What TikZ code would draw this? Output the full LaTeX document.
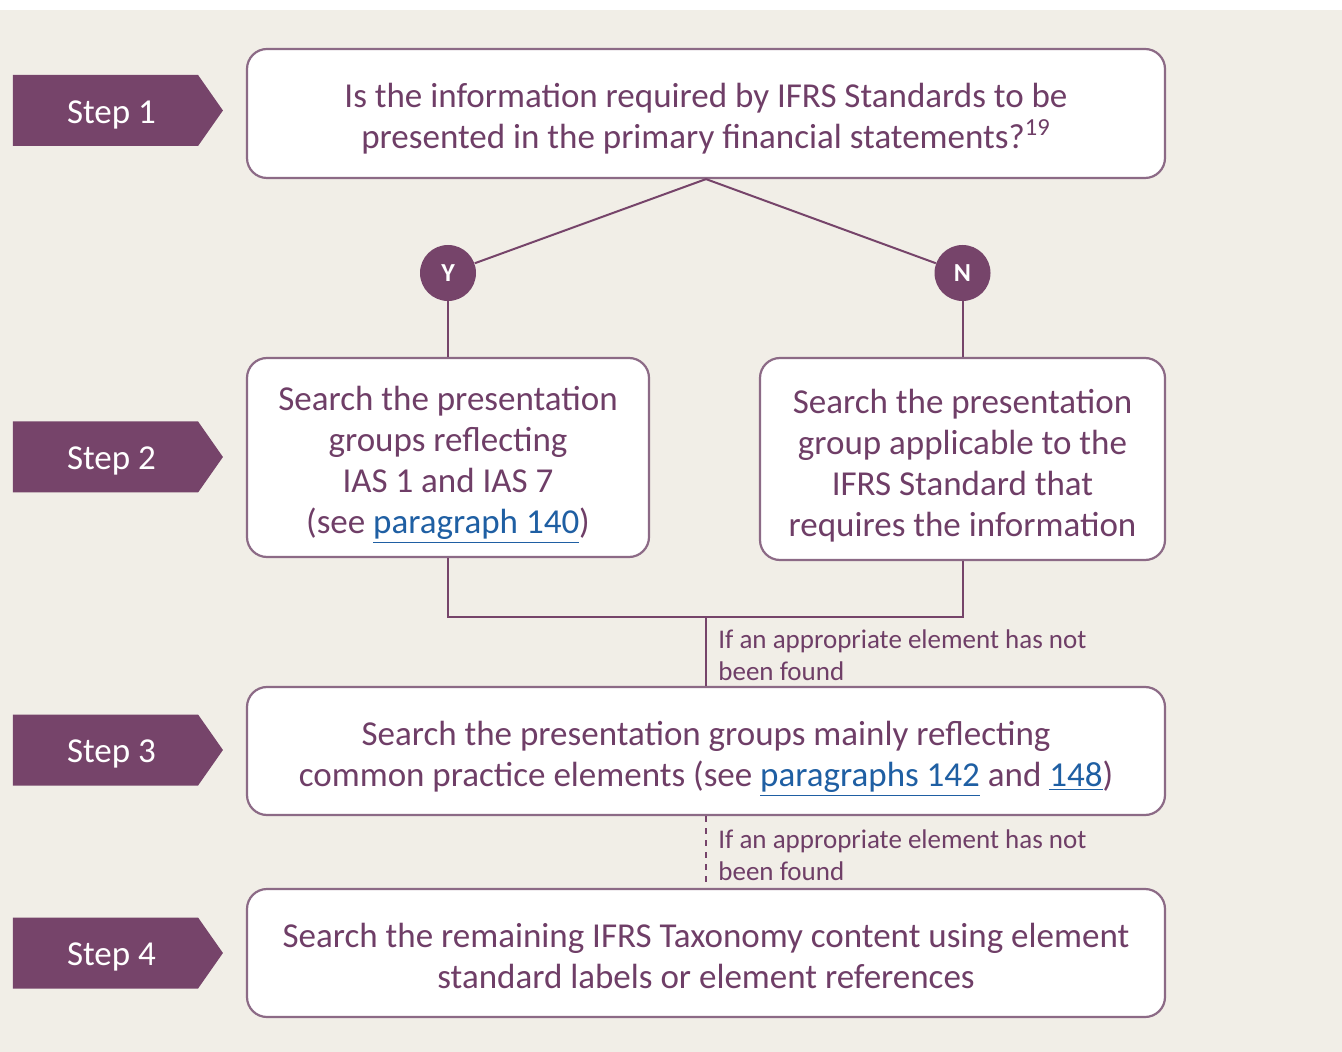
\documentclass[tikz,border=0pt]{standalone}
\usepackage{fontspec}
\setmainfont{Carlito}
\usepackage{tikz}
\usetikzlibrary{shapes,arrows.meta,positioning,calc,shapes.symbols,shapes.geometric}
\definecolor{plum}{HTML}{76446A}
\definecolor{plumtext}{HTML}{6F3E67}
\definecolor{plumline}{HTML}{8C6A86}
\definecolor{paper}{HTML}{F1EEE7}
\definecolor{linkblue}{HTML}{1F5FA3}
\newcommand{\lnk}[1]{{\color{linkblue}\underline{#1}}}
%% taller first line, pushes the text of a box down a little
\newcommand{\topgap}[1]{\rule{0pt}{#1}}
\tikzset{
  stepTag/.style={shape=signal, signal to=east, signal pointer angle=110,
    fill=plum, draw=none, minimum width=105pt, minimum height=35.5pt, inner sep=0pt,
    font=\fontsize{17.5}{20}\selectfont, text=white,
    execute at begin node={\hspace*{6pt}\rule{0pt}{15.5pt}}},
  qBox/.style={draw=plumline, line width=1.1pt, fill=white, rounded corners=10pt,
    align=center, text=plumtext, font=\fontsize{17.5}{20.5}\selectfont, inner sep=0pt},
  ynDot/.style={circle, fill=plum, minimum size=28pt, inner sep=0pt,
    font=\fontsize{13}{15}\selectfont\bfseries, text=white},
  %% connectors
  flow/.style={draw=plum, line width=1pt},
  %% side note
  sideNote/.style={align=left, text=plumtext, font=\fontsize{13.5}{16}\selectfont,
    inner sep=0pt, anchor=north west},
}
\begin{document}
\begin{tikzpicture}[x=0.5pt, y=-0.5pt]
%% Background
\fill[white] (0,0) rectangle (1342,1052);
\fill[paper] (0,10) rectangle (1342,1052);
\useasboundingbox (0,0) rectangle (1342,1052);

%% Step tags
\node[stepTag] (step1) at (105.5,110.5) {Step 1};
\node[stepTag] (step2) at (105.5,457) {Step 2};
\node[stepTag] (step3) at (105.5,750) {Step 3};
\node[stepTag] (step4) at (105.5,953) {Step 4};

%% Boxes
\node[qBox, minimum width=459pt, minimum height=64.5pt] (ask) at (706,113.5)
  {\topgap{17pt}Is the information required by IFRS Standards to be\\presented in the primary financial statements?\textsuperscript{19}};
\node[qBox, minimum width=201pt, minimum height=99.5pt] (grp) at (448,457.5)
  {\topgap{20pt}Search the presentation\\groups reflecting\\IAS 1 and IAS 7\\(see \lnk{paragraph 140})};
\node[qBox, minimum width=202.5pt, minimum height=101pt] (std) at (962.5,459)
  {\topgap{19pt}Search the presentation\\group applicable to the\\IFRS Standard that\\requires the information};
\node[qBox, minimum width=459pt, minimum height=64pt] (common) at (706,751)
  {\topgap{20pt}Search the presentation groups mainly reflecting\\common practice elements (see \lnk{paragraphs 142} and \lnk{148})};
\node[qBox, minimum width=459pt, minimum height=64pt] (remain) at (706,953)
  {\topgap{15pt}Search the remaining IFRS Taxonomy content using element\\standard labels or element references};

%% Yes / No
\node[ynDot] (yes) at (448,273) {Y};
\node[ynDot] (no)  at (962.5,273) {N};

%% Connectors
\draw[flow] (ask.south) -- (yes);
\draw[flow] (ask.south) -- (no);
\draw[flow] (yes) -- (grp);
\draw[flow] (no) -- (std);
\coordinate (join) at (706,617);
\draw[flow] (grp.south) |- (join) -| (std.south);
\draw[flow] (join) -- (common.north);
\draw[flow, dashed] (common.south) -- (remain.north);

%% Notes
\node[sideNote] (note1) at (718,629) {If an appropriate element has not\\been found};
\node[sideNote] (note2) at (718,829) {If an appropriate element has not\\been found};
\end{tikzpicture}
\end{document}
